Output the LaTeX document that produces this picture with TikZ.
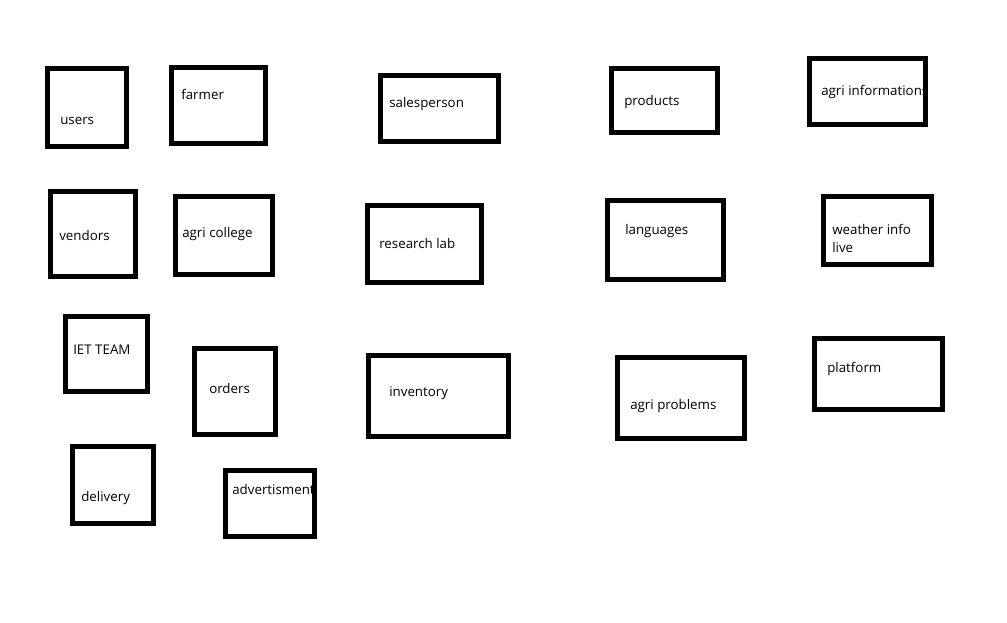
\documentclass[tikz,border=0pt]{standalone}
\usepackage{fontspec}
\setmainfont{Open Sans}
\usepackage{tikz}
\usetikzlibrary{fit}

\tikzset{
  box/.style={draw, line width=3.75pt, inner sep=0pt, outer sep=0pt},
  lbl/.style={anchor=base west, inner sep=0pt, font=\fontsize{10}{13.5}\selectfont}
}

\begin{document}
\begin{tikzpicture}[x=0.75pt, y=-0.75pt]
\useasboundingbox (0,0) rectangle (1007,623);
% first row
\node [box, fit={(47.5,68.5) (126.5,146.5)}] (users) {};
\node [lbl] (users-t) at (60,125) {users};
\node [box, fit={(171.5,67.5) (265.5,143.5)}] (farmer) {};
\node [lbl] (farmer-t) at (181,100) {farmer};
\node [box, fit={(380.5,75.5) (498.5,141.5)}] (sales) {};
\node [lbl] (sales-t) at (389,108) {salesperson};
\node [box, fit={(611.5,68.5) (717.5,132.5)}] (products) {};
\node [lbl] (products-t) at (624,106) {products};
\node [box, fit={(809.5,58.5) (925.5,124.5)}] (agrinfo) {};
\begin{scope}
\clip ([shift={(2.5,2.5)}]agrinfo.north west) rectangle ([shift={(-2.5,-2.5)}]agrinfo.south east);
\node [lbl] (agrinfo-t) at (821,96) {agri informations};
\end{scope}
% second row
\node [box, fit={(50.5,191.5) (135.5,276.5)}] (vendors) {};
\node [lbl] (vendors-t) at (59,241) {vendors};
\node [box, fit={(175.5,196.5) (272.5,274.5)}] (college) {};
\node [lbl] (college-t) at (182,238) {agri college};
\node [box, fit={(367.5,205.5) (481.5,282.5)}] (lab) {};
\node [lbl] (lab-t) at (379,249) {research lab};
\node [box, fit={(607.5,200.5) (723.5,279.5)}] (languages) {};
\node [lbl] (languages-t) at (625,235) {languages};
\node [box, fit={(823.5,196.5) (931.5,264.5)}] (weather) {};
\node [lbl] (weather-t) at (832,235) {weather info};
\node [lbl] (weather-t2) at (832,253) {live};
% third row
\node [box, fit={(65.5,316.5) (147.5,391.5)}] (iet) {};
\node [lbl] (iet-t) at (73,355) {IET TEAM};
\node [box, fit={(194.5,348.5) (275.5,434.5)}] (orders) {};
\node [lbl] (orders-t) at (209,394) {orders};
\node [box, fit={(368.5,355.5) (508.5,436.5)}] (inventory) {};
\node [lbl] (inventory-t) at (389,397) {inventory};
\node [box, fit={(617.5,357.5) (744.5,438.5)}] (problems) {};
\node [lbl] (problems-t) at (630,410) {agri problems};
\node [box, fit={(814.5,338.5) (942.5,409.5)}] (platform) {};
\node [lbl] (platform-t) at (827,373) {platform};
% last row
\node [box, fit={(72.5,446.5) (153.5,523.5)}] (delivery) {};
\node [lbl] (delivery-t) at (81,502) {delivery};
\node [box, fit={(225.5,470.5) (314.5,536.5)}] (advert) {};
\begin{scope}
\clip ([shift={(2.5,2.5)}]advert.north west) rectangle ([shift={(-2.5,-2.5)}]advert.south east);
\node [lbl] (advert-t) at (232,494) {advertisment};
\end{scope}
\end{tikzpicture}
\end{document}
